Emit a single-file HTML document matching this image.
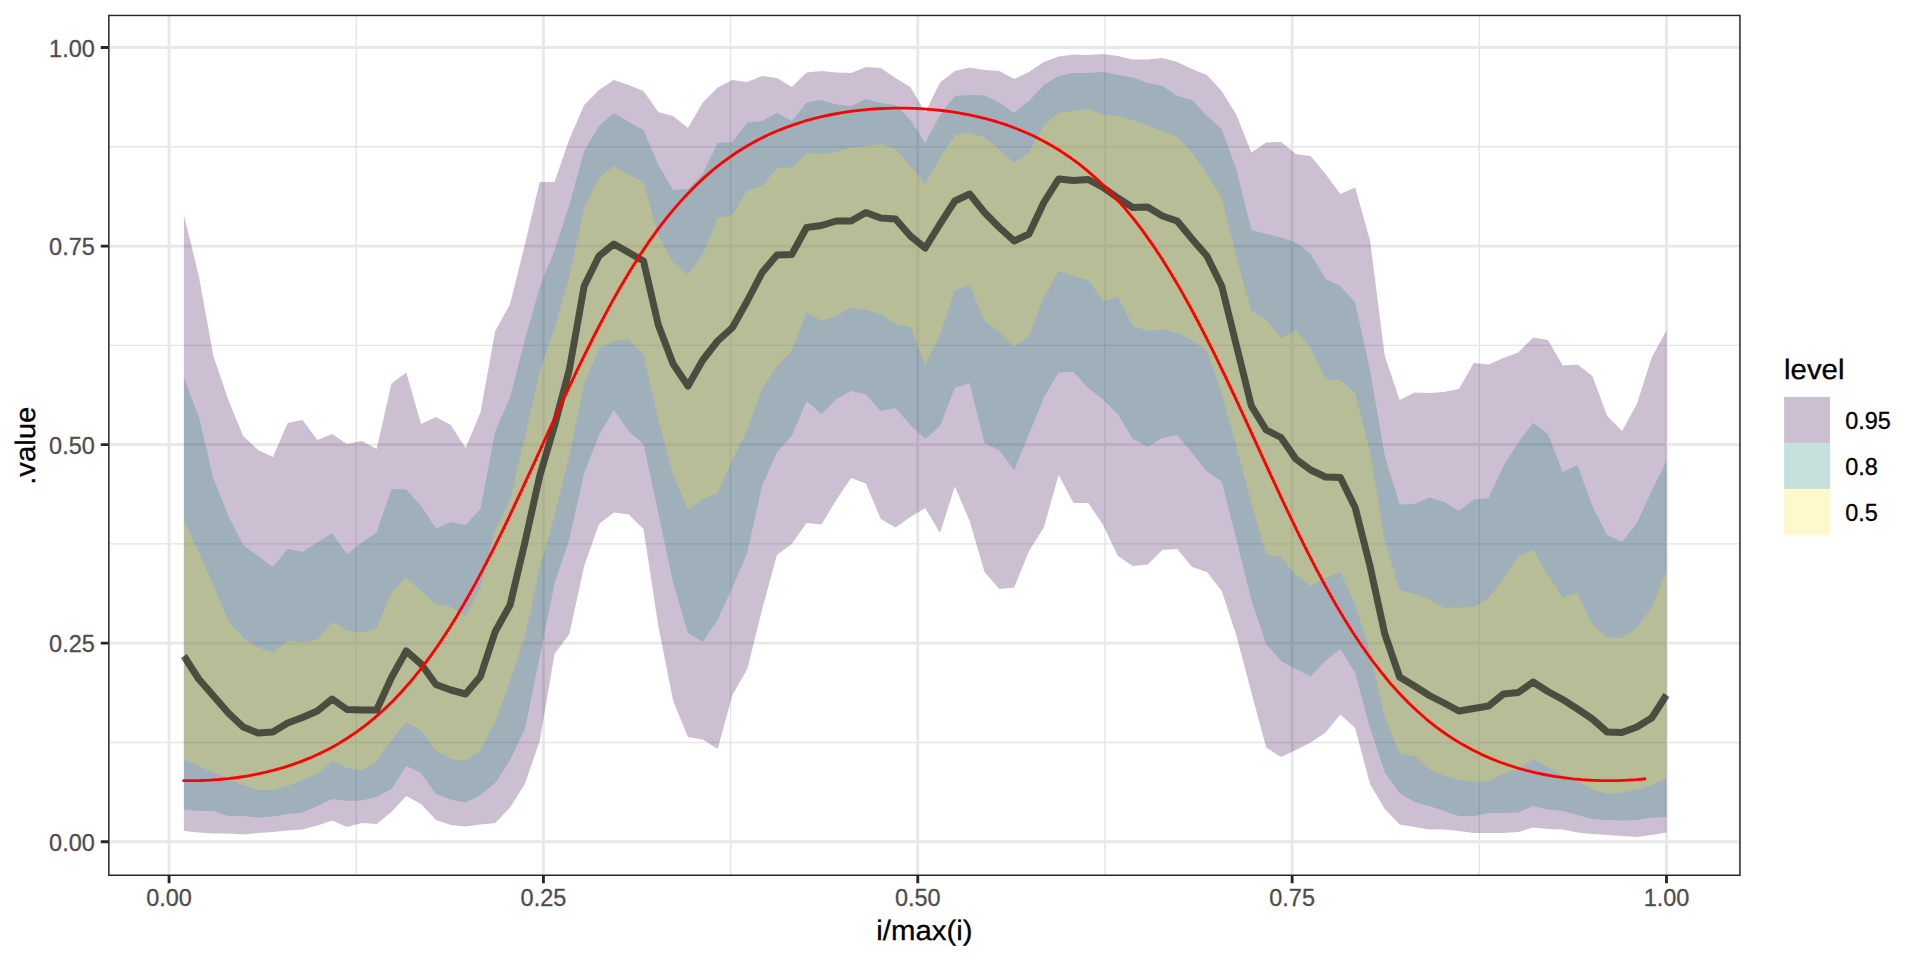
<!DOCTYPE html>
<html><head><meta charset="utf-8"><title>plot</title>
<style>html,body{margin:0;padding:0;background:#fff}svg{display:block}text{font-family:"Liberation Sans",sans-serif}</style></head>
<body>
<svg width="1920" height="960" viewBox="0 0 1920 960">
<rect width="1920" height="960" fill="#fff"/>
<defs><clipPath id="pc"><rect x="108.1" y="14.67" width="1632.6" height="861.33"/></clipPath></defs>
<g clip-path="url(#pc)">
<path d="M108.1,742.47 H1740.7 M356.24,14.67 V876 M108.1,543.91 H1740.7 M730.6,14.67 V876 M108.1,345.34 H1740.7 M1104.96,14.67 V876 M108.1,146.78 H1740.7 M1479.32,14.67 V876" stroke="#E5E5E5" stroke-width="1.42" fill="none"/>
<path d="M108.1,841.75 H1740.7 M169.06,14.67 V876 M108.1,643.19 H1740.7 M543.42,14.67 V876 M108.1,444.62 H1740.7 M917.78,14.67 V876 M108.1,246.06 H1740.7 M1292.14,14.67 V876 M108.1,47.5 H1740.7 M1666.5,14.67 V876" stroke="#E8E8E8" stroke-width="2.84" fill="none"/>
<path d="M183.89,215 L198.71,275.5 L213.54,356.5 L228.36,400 L243.19,436 L258.02,450 L272.84,457 L287.67,423 L302.5,420 L317.32,440 L332.15,434 L346.97,444 L361.8,441 L376.63,449 L391.45,383.5 L406.28,372.5 L421.1,424 L435.93,417 L450.76,425 L465.58,448 L480.41,412.5 L495.24,331 L510.06,304 L524.89,244.5 L539.71,182 L554.54,182 L569.37,139 L584.19,105 L599.02,90 L613.84,80 L628.67,85 L643.5,91 L658.32,112 L673.15,116 L687.97,128 L702.8,102.5 L717.63,87.5 L732.45,80 L747.28,82 L762.11,76 L776.93,78 L791.76,87 L806.58,72.5 L821.41,71 L836.24,72.5 L851.06,73 L865.89,67 L880.71,68 L895.54,78 L910.37,87 L925.19,112.5 L940.02,82.5 L954.85,71 L969.67,67.5 L984.5,70 L999.32,71 L1014.15,79 L1028.98,72 L1043.8,62 L1058.63,56.5 L1073.45,54.5 L1088.28,55 L1103.11,54 L1117.93,56 L1132.76,59.5 L1147.59,59.5 L1162.41,58 L1177.24,62 L1192.06,69 L1206.89,75 L1221.72,91 L1236.54,115 L1251.37,152.5 L1266.19,142.5 L1281.02,142 L1295.85,154 L1310.67,156 L1325.5,174 L1340.32,194 L1355.15,187.5 L1369.98,240 L1384.8,356 L1399.63,400 L1414.46,392.5 L1429.28,393 L1444.11,392 L1458.93,389 L1473.76,363 L1488.59,364.5 L1503.41,358 L1518.24,352.5 L1533.06,337.5 L1547.89,340 L1562.72,365.5 L1577.54,364.5 L1592.37,376 L1607.2,416 L1622.02,431 L1636.85,404 L1651.67,357.5 L1666.5,330.5 L1666.5,832.5 L1651.67,835 L1636.85,837 L1622.02,836 L1607.2,835 L1592.37,834 L1577.54,832.5 L1562.72,829.5 L1547.89,829 L1533.06,827.5 L1518.24,832 L1503.41,833 L1488.59,833 L1473.76,833 L1458.93,831 L1444.11,829.5 L1429.28,829.5 L1414.46,827 L1399.63,824.5 L1384.8,809 L1369.98,784 L1355.15,728 L1340.32,714.5 L1325.5,732.5 L1310.67,742.5 L1295.85,750 L1281.02,757 L1266.19,747.5 L1251.37,692.5 L1236.54,636 L1221.72,591 L1206.89,572 L1192.06,567 L1177.24,549 L1162.41,550 L1147.59,564.5 L1132.76,566 L1117.93,556 L1103.11,525 L1088.28,503 L1073.45,503 L1058.63,475 L1043.8,527.5 L1028.98,551 L1014.15,587.5 L999.32,589 L984.5,572 L969.67,521 L954.85,486.5 L940.02,533 L925.19,508 L910.37,517 L895.54,527.5 L880.71,519 L865.89,483.5 L851.06,478 L836.24,500 L821.41,524.5 L806.58,523 L791.76,544 L776.93,555 L762.11,609.5 L747.28,669 L732.45,695 L717.63,749 L702.8,739.5 L687.97,737 L673.15,701 L658.32,626 L643.5,529 L628.67,514.5 L613.84,512.5 L599.02,524 L584.19,566 L569.37,634 L554.54,654 L539.71,741 L524.89,784 L510.06,807.5 L495.24,823 L480.41,824.5 L465.58,826.5 L450.76,825 L435.93,820 L421.1,804 L406.28,796 L391.45,812 L376.63,824 L361.8,823 L346.97,827 L332.15,820.5 L317.32,825.5 L302.5,829.5 L287.67,830.5 L272.84,832 L258.02,833 L243.19,834.5 L228.36,833.5 L213.54,833.5 L198.71,832.5 L183.89,831Z" fill="#330047" fill-opacity="0.25"/>
<path d="M183.89,378 L198.71,416.5 L213.54,479 L228.36,516 L243.19,545 L258.02,556 L272.84,567 L287.67,549 L302.5,552 L317.32,542.5 L332.15,533 L346.97,554.5 L361.8,542.5 L376.63,532.5 L391.45,489 L406.28,489.5 L421.1,506 L435.93,528.5 L450.76,522 L465.58,525 L480.41,509 L495.24,431.5 L510.06,397.5 L524.89,340 L539.71,287 L554.54,250.5 L569.37,205 L584.19,151 L599.02,126 L613.84,113 L628.67,122 L643.5,130 L658.32,165 L673.15,190 L687.97,189 L702.8,174 L717.63,143 L732.45,142 L747.28,122.5 L762.11,121 L776.93,113 L791.76,121 L806.58,102.5 L821.41,100 L836.24,104.5 L851.06,106 L865.89,99 L880.71,103 L895.54,105 L910.37,120 L925.19,143 L940.02,115 L954.85,96 L969.67,95 L984.5,95.5 L999.32,102.5 L1014.15,113 L1028.98,101 L1043.8,85 L1058.63,76 L1073.45,73 L1088.28,73 L1103.11,72 L1117.93,75 L1132.76,77.5 L1147.59,83 L1162.41,86 L1177.24,96 L1192.06,100 L1206.89,116 L1221.72,129 L1236.54,170 L1251.37,230 L1266.19,234 L1281.02,237.5 L1295.85,242.5 L1310.67,254 L1325.5,279 L1340.32,286 L1355.15,302.5 L1369.98,370 L1384.8,456 L1399.63,504.5 L1414.46,504 L1429.28,497.5 L1444.11,502 L1458.93,511 L1473.76,499.5 L1488.59,498 L1503.41,466 L1518.24,442.5 L1533.06,423 L1547.89,434 L1562.72,472 L1577.54,465 L1592.37,506 L1607.2,535 L1622.02,542 L1636.85,523 L1651.67,491 L1666.5,461 L1666.5,817 L1651.67,817.5 L1636.85,820 L1622.02,820.5 L1607.2,820 L1592.37,819 L1577.54,815 L1562.72,811 L1547.89,809.5 L1533.06,806 L1518.24,812.5 L1503.41,813 L1488.59,813 L1473.76,816 L1458.93,816 L1444.11,811 L1429.28,806 L1414.46,802 L1399.63,793 L1384.8,772.5 L1369.98,728 L1355.15,673 L1340.32,649 L1325.5,660.5 L1310.67,676.5 L1295.85,669 L1281.02,661 L1266.19,644 L1251.37,600 L1236.54,540 L1221.72,481.5 L1206.89,471.5 L1192.06,453 L1177.24,435 L1162.41,438 L1147.59,446.5 L1132.76,439 L1117.93,414.5 L1103.11,399.5 L1088.28,388 L1073.45,372 L1058.63,372.5 L1043.8,397.5 L1028.98,434 L1014.15,470 L999.32,450.5 L984.5,443 L969.67,383 L954.85,388 L940.02,426 L925.19,439 L910.37,425 L895.54,408 L880.71,411 L865.89,394.5 L851.06,391 L836.24,399 L821.41,414 L806.58,401 L791.76,436 L776.93,452.5 L762.11,485.5 L747.28,552.5 L732.45,587.5 L717.63,619.5 L702.8,642 L687.97,633 L673.15,583 L658.32,513 L643.5,444 L628.67,431 L613.84,410 L599.02,435 L584.19,473 L569.37,539 L554.54,583.5 L539.71,657 L524.89,729 L510.06,760 L495.24,783 L480.41,795 L465.58,802.5 L450.76,799.5 L435.93,794 L421.1,773 L406.28,766 L391.45,789 L376.63,797 L361.8,800.5 L346.97,801 L332.15,799 L317.32,806 L302.5,812.5 L287.67,814 L272.84,816.5 L258.02,817.5 L243.19,816 L228.36,816 L213.54,811 L198.71,811 L183.89,809.5Z" fill="#178377" fill-opacity="0.25"/>
<path d="M183.89,520 L198.71,552.5 L213.54,585 L228.36,621 L243.19,637.5 L258.02,647.5 L272.84,652.5 L287.67,640.5 L302.5,642 L317.32,639.5 L332.15,622 L346.97,630 L361.8,633 L376.63,627.5 L391.45,592.5 L406.28,577.5 L421.1,591 L435.93,604 L450.76,607 L465.58,616 L480.41,587.5 L495.24,530 L510.06,500 L524.89,437.5 L539.71,371.5 L554.54,328 L569.37,276 L584.19,207.5 L599.02,177.5 L613.84,166 L628.67,175 L643.5,182 L658.32,235 L673.15,262.5 L687.97,275 L702.8,254 L717.63,218 L732.45,215 L747.28,190 L762.11,186 L776.93,168 L791.76,167.5 L806.58,153 L821.41,154 L836.24,152 L851.06,147.5 L865.89,146 L880.71,144 L895.54,149 L910.37,166 L925.19,184 L940.02,157.5 L954.85,135.5 L969.67,132.5 L984.5,137.5 L999.32,149 L1014.15,163 L1028.98,152.5 L1043.8,125 L1058.63,112.5 L1073.45,111 L1088.28,109 L1103.11,114.5 L1117.93,116 L1132.76,120 L1147.59,125.5 L1162.41,131 L1177.24,137 L1192.06,152.5 L1206.89,174 L1221.72,197.5 L1236.54,257.5 L1251.37,311 L1266.19,320 L1281.02,338 L1295.85,330 L1310.67,347.5 L1325.5,379 L1340.32,380 L1355.15,393 L1369.98,451 L1384.8,541 L1399.63,590 L1414.46,594 L1429.28,599.5 L1444.11,608 L1458.93,607.5 L1473.76,607 L1488.59,598 L1503.41,579 L1518.24,556 L1533.06,550 L1547.89,575 L1562.72,597.5 L1577.54,593 L1592.37,624.5 L1607.2,637.5 L1622.02,638 L1636.85,627.5 L1651.67,607.5 L1666.5,571 L1666.5,778 L1651.67,785 L1636.85,790 L1622.02,792.5 L1607.2,794 L1592.37,789.5 L1577.54,781 L1562.72,775 L1547.89,767.5 L1533.06,759 L1518.24,769 L1503.41,774 L1488.59,781 L1473.76,782 L1458.93,780 L1444.11,776 L1429.28,769 L1414.46,756 L1399.63,753.5 L1384.8,717.5 L1369.98,652.5 L1355.15,605 L1340.32,572 L1325.5,578.5 L1310.67,586 L1295.85,575 L1281.02,557 L1266.19,554.5 L1251.37,504 L1236.54,447.5 L1221.72,394 L1206.89,351 L1192.06,340.5 L1177.24,333 L1162.41,329.5 L1147.59,331 L1132.76,326 L1117.93,297 L1103.11,301 L1088.28,280.5 L1073.45,276 L1058.63,271 L1043.8,297.5 L1028.98,336 L1014.15,347 L999.32,332.5 L984.5,321 L969.67,285 L954.85,290.5 L940.02,335 L925.19,365 L910.37,327 L895.54,324 L880.71,314.5 L865.89,309.5 L851.06,308 L836.24,316 L821.41,321 L806.58,312 L791.76,351 L776.93,366 L762.11,389 L747.28,430 L732.45,460 L717.63,493 L702.8,499 L687.97,510 L673.15,475 L658.32,420 L643.5,354.5 L628.67,340 L613.84,341 L599.02,349 L584.19,383.5 L569.37,456 L554.54,516 L539.71,568 L524.89,637 L510.06,681 L495.24,722.5 L480.41,750 L465.58,761 L450.76,759 L435.93,750.5 L421.1,730.5 L406.28,722 L391.45,740 L376.63,761 L361.8,770.5 L346.97,768 L332.15,761 L317.32,774 L302.5,780 L287.67,786 L272.84,790 L258.02,790 L243.19,785 L228.36,779 L213.54,772.5 L198.71,766 L183.89,759.5Z" fill="#FBE32F" fill-opacity="0.25"/>
<path d="M183.89,656 L198.71,679 L213.54,696 L228.36,713 L243.19,727 L258.02,733 L272.84,732 L287.67,723 L302.5,717.5 L317.32,711 L332.15,699 L346.97,709.5 L361.8,710 L376.63,710 L391.45,677.5 L406.28,651 L421.1,664 L435.93,684.5 L450.76,690 L465.58,694 L480.41,676.5 L495.24,631.5 L510.06,605 L524.89,542.5 L539.71,476 L554.54,425.5 L569.37,369.5 L584.19,286 L599.02,256 L613.84,244 L628.67,252.5 L643.5,261 L658.32,325 L673.15,364 L687.97,386 L702.8,360 L717.63,341 L732.45,327.5 L747.28,301 L762.11,272.5 L776.93,255 L791.76,254.5 L806.58,227.5 L821.41,225.5 L836.24,221 L851.06,221 L865.89,212.5 L880.71,218 L895.54,219 L910.37,236 L925.19,248 L940.02,224 L954.85,201 L969.67,194 L984.5,212.5 L999.32,227.5 L1014.15,241 L1028.98,234 L1043.8,202.5 L1058.63,179 L1073.45,180.5 L1088.28,179.5 L1103.11,187.5 L1117.93,198 L1132.76,207.5 L1147.59,207 L1162.41,216 L1177.24,221 L1192.06,239 L1206.89,256 L1221.72,286 L1236.54,346 L1251.37,406 L1266.19,430 L1281.02,437.5 L1295.85,459 L1310.67,470 L1325.5,477 L1340.32,477.5 L1355.15,507.5 L1369.98,566 L1384.8,634 L1399.63,677 L1414.46,686 L1429.28,695.5 L1444.11,703 L1458.93,711 L1473.76,708.5 L1488.59,706 L1503.41,694 L1518.24,692.5 L1533.06,682 L1547.89,691.5 L1562.72,699.5 L1577.54,709 L1592.37,719 L1607.2,732 L1622.02,732.5 L1636.85,727 L1651.67,718 L1666.5,695" fill="none" stroke="#000" stroke-opacity="0.59" stroke-width="7" stroke-linejoin="round" stroke-linecap="butt"/>
<path d="M182.5,780.6 L191.65,780.67 L200.79,780.52 L209.94,780.12 L219.09,779.49 L228.23,778.61 L237.38,777.48 L246.53,776.09 L255.68,774.43 L264.82,772.47 L273.97,770.21 L283.12,767.63 L292.26,764.69 L301.41,761.39 L310.56,757.69 L319.7,753.56 L328.85,748.97 L338,743.89 L347.14,738.28 L356.29,732.1 L365.44,725.32 L374.58,717.88 L383.73,709.75 L392.88,700.9 L402.03,691.28 L411.17,680.86 L420.32,669.6 L429.47,657.48 L438.61,644.5 L447.76,630.63 L456.91,615.89 L466.05,600.3 L475.2,583.88 L484.35,566.69 L493.49,548.79 L502.64,530.26 L511.79,511.2 L520.93,491.71 L530.08,471.92 L539.23,451.95 L548.38,431.93 L557.52,412.01 L566.67,392.31 L575.82,372.96 L584.96,354.07 L594.11,335.75 L603.26,318.08 L612.4,301.14 L621.55,285 L630.7,269.68 L639.84,255.23 L648.99,241.64 L658.14,228.93 L667.28,217.09 L676.43,206.09 L685.58,195.91 L694.73,186.51 L703.87,177.86 L713.02,169.93 L722.17,162.67 L731.31,156.04 L740.46,150 L749.61,144.51 L758.75,139.54 L767.9,135.05 L777.05,131 L786.19,127.36 L795.34,124.12 L804.49,121.23 L813.63,118.68 L822.78,116.44 L831.93,114.5 L841.08,112.84 L850.22,111.44 L859.37,110.3 L868.52,109.4 L877.66,108.74 L886.81,108.31 L895.96,108.11 L905.1,108.13 L914.25,108.37 L923.4,108.85 L932.54,109.55 L941.69,110.49 L950.84,111.68 L959.98,113.12 L969.13,114.83 L978.28,116.83 L987.42,119.12 L996.57,121.73 L1005.72,124.68 L1014.87,128 L1024.01,131.71 L1033.16,135.83 L1042.31,140.41 L1051.45,145.47 L1060.6,151.06 L1069.75,157.2 L1078.89,163.95 L1088.04,171.33 L1097.19,179.39 L1106.33,188.17 L1115.48,197.7 L1124.63,208.03 L1133.78,219.19 L1142.92,231.19 L1152.07,244.06 L1161.22,257.8 L1170.36,272.41 L1179.51,287.88 L1188.66,304.18 L1197.8,321.25 L1206.95,339.04 L1216.1,357.48 L1225.24,376.46 L1234.39,395.88 L1243.54,415.63 L1252.68,435.58 L1261.83,455.6 L1270.98,475.54 L1280.12,495.29 L1289.27,514.71 L1298.42,533.68 L1307.57,552.1 L1316.71,569.88 L1325.86,586.94 L1335.01,603.21 L1344.15,618.65 L1353.3,633.23 L1362.45,646.93 L1371.59,659.76 L1380.74,671.72 L1389.89,682.82 L1399.03,693.09 L1408.18,702.57 L1417.33,711.29 L1426.47,719.29 L1435.62,726.6 L1444.77,733.27 L1453.92,739.35 L1463.06,744.86 L1472.21,749.85 L1481.36,754.35 L1490.5,758.39 L1499.65,762.02 L1508.8,765.25 L1517.94,768.12 L1527.09,770.65 L1536.24,772.85 L1545.38,774.75 L1554.53,776.37 L1563.68,777.71 L1572.83,778.79 L1581.97,779.62 L1591.12,780.21 L1600.27,780.56 L1609.41,780.68 L1618.56,780.56 L1627.71,780.2 L1636.85,779.61 L1646,778.77" fill="none" stroke="#FF0000" stroke-width="2.84" stroke-linejoin="round"/>
<rect x="108.1" y="14.67" width="1632.6" height="861.33" fill="none" stroke="#262626" stroke-width="3.0"/>
</g>
<path d="M100.77,841.75 H108.1 M169.06,876 V883.33 M100.77,643.19 H108.1 M543.42,876 V883.33 M100.77,444.62 H108.1 M917.78,876 V883.33 M100.77,246.06 H108.1 M1292.14,876 V883.33 M100.77,47.5 H108.1 M1666.5,876 V883.33" stroke="#262626" stroke-width="2.84" fill="none"/>
<text transform="translate(94.8,851)" font-size="23.47" text-anchor="end" fill="#4D4D4D" stroke="#4D4D4D" stroke-width="0.3">0.00</text>
<text transform="translate(94.8,652)" font-size="23.47" text-anchor="end" fill="#4D4D4D" stroke="#4D4D4D" stroke-width="0.3">0.25</text>
<text transform="translate(94.8,454)" font-size="23.47" text-anchor="end" fill="#4D4D4D" stroke="#4D4D4D" stroke-width="0.3">0.50</text>
<text transform="translate(94.8,255)" font-size="23.47" text-anchor="end" fill="#4D4D4D" stroke="#4D4D4D" stroke-width="0.3">0.75</text>
<text transform="translate(94.8,57)" font-size="23.47" text-anchor="end" fill="#4D4D4D" stroke="#4D4D4D" stroke-width="0.3">1.00</text>
<text transform="translate(169.06,906)" font-size="23.47" text-anchor="middle" fill="#4D4D4D" stroke="#4D4D4D" stroke-width="0.3">0.00</text>
<text transform="translate(543.42,906)" font-size="23.47" text-anchor="middle" fill="#4D4D4D" stroke="#4D4D4D" stroke-width="0.3">0.25</text>
<text transform="translate(917.78,906)" font-size="23.47" text-anchor="middle" fill="#4D4D4D" stroke="#4D4D4D" stroke-width="0.3">0.50</text>
<text transform="translate(1292.14,906)" font-size="23.47" text-anchor="middle" fill="#4D4D4D" stroke="#4D4D4D" stroke-width="0.3">0.75</text>
<text transform="translate(1666.5,906)" font-size="23.47" text-anchor="middle" fill="#4D4D4D" stroke="#4D4D4D" stroke-width="0.3">1.00</text>
<text text-rendering="geometricPrecision" transform="translate(924.4,939.9) scale(1,0.96)" font-size="29.33" text-anchor="middle" fill="#000" stroke="#000" stroke-width="0.3">i/max(i)</text>
<text text-rendering="geometricPrecision" transform="translate(34.6,445.7) rotate(-90) scale(1,0.96)" font-size="29.33" text-anchor="middle" fill="#000" stroke="#000" stroke-width="0.3">.value</text>
<text text-rendering="geometricPrecision" transform="translate(1784.1,379.4) scale(1,0.96)" font-size="29.33" text-anchor="start" fill="#000" stroke="#000" stroke-width="0.3">level</text>
<rect x="1784.1" y="396.9" width="46" height="46" fill="#330047" fill-opacity="0.25"/>
<rect x="1784.1" y="442.9" width="46" height="46" fill="#178377" fill-opacity="0.25"/>
<rect x="1784.1" y="488.9" width="46" height="46" fill="#FBE32F" fill-opacity="0.25"/>
<text transform="translate(1845.15,429)" font-size="23.47" text-anchor="start" fill="#000" stroke="#000" stroke-width="0.3">0.95</text>
<text transform="translate(1845.15,475)" font-size="23.47" text-anchor="start" fill="#000" stroke="#000" stroke-width="0.3">0.8</text>
<text transform="translate(1845.15,521)" font-size="23.47" text-anchor="start" fill="#000" stroke="#000" stroke-width="0.3">0.5</text>
</svg>
</body></html>
